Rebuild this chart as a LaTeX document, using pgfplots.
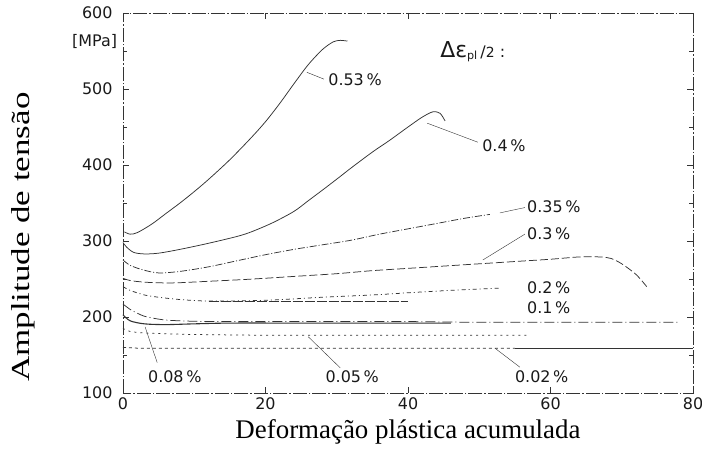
\documentclass[border=0pt]{standalone}
\usepackage{pgfplots}
\pgfplotsset{compat=1.18}
\usepackage{fontspec}
\setmainfont{Liberation Serif}
\newfontfamily\din{DejaVu Sans}
\definecolor{ink}{HTML}{333333}
\begin{document}
\begin{tikzpicture}
\begin{axis}[
 scale only axis, width=570bp, height=380bp,
 xmin=0,xmax=80,ymin=100,ymax=600,
 xtick={0,20,...,80}, ytick={100,200,...,600},
 minor ytick={150,250,...,550},
 tick align=inside, major tick length=6bp, minor tick length=4bp,
 tick style={ink, line width=0.6bp},
 axis line style={ink, line width=0.5bp, dash pattern=on 14bp off 2bp on 1.5bp off 2bp},
 ticklabel style={font=\din\fontsize{16}{18}\selectfont, text=black!90},
 /pgf/number format/assume math mode=true,
 xticklabel style={yshift=-1bp},
 yticklabel style={xshift=-7bp},
 clip=false,
 xlabel={Deformação plástica acumulada},
 ylabel={\scalebox{1.35}[1]{Amplitude de tensão}},
 xlabel style={font=\fontsize{27}{30}\selectfont, at={(axis description cs:0.5,-0.103)},anchor=center},
 ylabel style={font=\fontsize{26}{30}\selectfont, at={(axis description cs:-0.175,0.41)},anchor=center},
 every axis plot/.append style={ink, line width=0.75bp, no markers},
]
% 0.53 %
\addplot[smooth] coordinates {(0.2,312)(1,309)(2,311)(4,322)(6,336)(8,350)(10,365)(12,381)(15,407)(18,436)(20,457)(22,481)(24,507)(26,532)(28,552)(29.5,562)(30.5,564)(31.5,563)};
% 0.4 %
\addplot[smooth] coordinates {(0,298)(0.5,292)(1.5,285)(3,283)(5,284)(8,289)(12,297)(16,306)(18,312)(21,324)(24,339)(26,353)(28,367)(30.5,385)(32,396)(35,417)(37.5,433)(40,450)(42,463)(43.5,470)(44.5,468)(45.2,458)};
% 0.35 %
\addplot[smooth, dash pattern=on 7bp off 2bp on 1bp off 2bp] coordinates {(0,275)(1,268)(2.8,262)(5,258)(8,260)(12,266)(16,274)(20,282)(24,289)(28,295)(32,301)(36,309)(40,316)(44,323)(48,330)(51.5,335)};
% 0.3 %
\addplot[smooth, dash pattern=on 8bp off 3bp] coordinates {(0,251)(1,248)(2.8,246)(5,245)(7.6,245)(12,247)(16.4,249)(20,251)(25,254)(30,257)(35,261)(40,264)(45,267)(50,270)(55,273)(60,276)(64,279)(67,279)(68.5,277)(70,270)(72,256)(73.5,240)};
% 0.2 %
\addplot[smooth, dash pattern=on 4bp off 3bp on 1bp off 3bp] coordinates {(0,240)(1,235)(3,229)(5,226)(8,223)(12,221)(20,222)(28,226)(35,229)(42,233)(48,236)(53,238)};
\addplot[line width=1bp, dash pattern=on 10bp off 2bp] coordinates {(12,221)(25,221)(40,221)};
% 0.1 %
\addplot[smooth, dash pattern=on 10bp off 3bp on 1bp off 3bp] coordinates {(0,217)(1,210)(2,205)(3,201)(4.5,198)(6,196)(8,195)(12,194)(20,194)(30,194)(40,194)(50,193)(60,193)(70,193)(78,193)};
% 0.08 %
\addplot[smooth, line width=1.1bp] coordinates {(0,203)(1,195)(3,191)(6,190)(10,191)(15,192)(25,192)(40,192)(46,192)};
% 0.05 %
\addplot[smooth, dash pattern=on 2bp off 4bp] coordinates {(0,185)(1,181)(3,179)(6,178)(10,177)(20,176)(30,176)(40,176)(50,176)(57,176)};
% 0.02 %
\addplot[dash pattern=on 3bp off 3bp] coordinates {(0,160)(2,159)(10,159)(20,159)(40,159)(55,159)};
\addplot[ink] coordinates {(55,159)(80,159)};
% leaders
\draw[ink, line width=0.4bp] (axis cs:25.8,522) -- (axis cs:28.2,513);
\draw[ink, line width=0.4bp] (axis cs:42.7,455) -- (axis cs:49.8,430);
\draw[ink, line width=0.4bp] (axis cs:52.9,337) -- (axis cs:56.4,344);
\draw[ink, line width=0.4bp] (axis cs:50.5,275) -- (axis cs:56.4,309);
\draw[ink, line width=0.4bp] (axis cs:3.1,187) -- (axis cs:4.8,140);
\draw[ink, line width=0.4bp] (axis cs:26,174) -- (axis cs:30.5,133);
\draw[ink, line width=0.4bp] (axis cs:52.2,159) -- (axis cs:55.7,134);
% labels
\begin{scope}[every node/.style={font=\din\fontsize{16}{18}\selectfont, text=black!90, anchor=west, inner sep=0pt}]
\node at (axis cs:28.8,512) {0.53\,\%};
\node at (axis cs:50.4,426) {0.4\,\%};
\node at (axis cs:56.7,345) {0.35\,\%};
\node at (axis cs:56.7,310) {0.3\,\%};
\node at (axis cs:56.7,239) {0.2\,\%};
\node at (axis cs:56.7,212) {0.1\,\%};
\node at (axis cs:3.5,121) {0.08\,\%};
\node at (axis cs:28.4,121) {0.05\,\%};
\node at (axis cs:55,121) {0.02\,\%};
\node at (axis cs:44.5,549) {{\fontsize{22}{24}\selectfont Δε}\textsubscript{pl}\,/{\fontsize{14}{16}\selectfont 2} :};
\node[anchor=east] at (axis cs:-0.8,562) {[MPa]};
\end{scope}
\end{axis}
\pgfresetboundingbox
\path ([shift={(-123bp,-64bp)}]current axis.south west) rectangle ([shift={(9bp,13bp)}]current axis.north east);
\end{tikzpicture}
\end{document}
